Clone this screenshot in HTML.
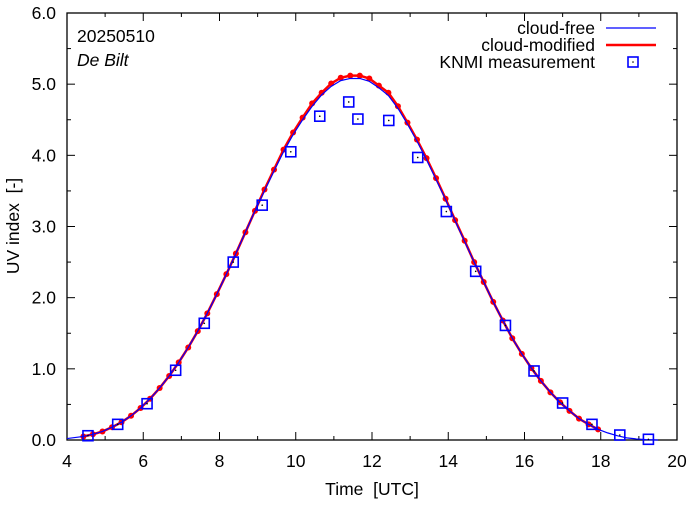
<!DOCTYPE html>
<html><head><meta charset="utf-8"><style>
body{margin:0;background:#fff}
svg text{font-family:"Liberation Sans",sans-serif;font-size:17.5px;fill:#000;white-space:pre}
</style></head><body>
<svg id="chart" width="694" height="501" xmlns="http://www.w3.org/2000/svg">
<g id="axes"></g>
<g id="series"></g>
<text x="77" y="42">20250510</text>
<text x="77" y="66" font-style="italic">De Bilt</text>
<g>
<text x="595" y="34" text-anchor="end">cloud-free</text>
<line x1="606" y1="28" x2="656" y2="28" stroke="#0000ff" stroke-width="1.2"/>
<text x="595" y="51" text-anchor="end">cloud-modified</text>
<line x1="606" y1="45" x2="656" y2="45" stroke="#ff0000" stroke-width="2.5"/>
<text x="595" y="68" text-anchor="end">KNMI measurement</text>
<rect x="628" y="57" width="10" height="10" fill="none" stroke="#0000ff" stroke-width="1.6"/>
<circle cx="633" cy="62" r="0.8" fill="#000"/>
</g>
<text x="372" y="495" text-anchor="middle">Time  [UTC]</text>
<text transform="translate(19,226) rotate(-90)" text-anchor="middle">UV index  [-]</text>
</svg>
<script>
const xTicks=[4,6,8,10,12,14,16,18,20];
const yTicks=[0,1,2,3,4,5,6];
const modTimes=[4.43,4.68,4.93,5.18,5.43,5.68,5.93,6.18,6.43,6.68,6.93,7.18,7.43,7.68,7.93,8.18,8.43,8.68,8.93,9.18,9.43,9.68,9.93,10.18,10.43,10.68,10.93,11.18,11.43,11.68,11.93,12.18,12.43,12.68,12.93,13.18,13.43,13.68,13.93,14.18,14.43,14.68,14.93,15.18,15.43,15.68,15.93,16.18,16.43,16.68,16.93,17.18,17.43,17.68,17.93];
const modValues=[0.05,0.08,0.12,0.18,0.25,0.34,0.45,0.58,0.73,0.90,1.09,1.30,1.53,1.78,2.05,2.33,2.62,2.92,3.22,3.52,3.80,4.08,4.32,4.53,4.73,4.88,5.01,5.09,5.12,5.12,5.08,4.98,4.88,4.69,4.46,4.22,3.96,3.68,3.39,3.09,2.80,2.50,2.22,1.94,1.68,1.43,1.21,1.01,0.83,0.67,0.53,0.41,0.30,0.22,0.15];
const freeTimes=[4.0,4.43,4.68,4.93,5.18,5.43,5.68,5.93,6.18,6.43,6.68,6.93,7.18,7.43,7.68,7.93,8.18,8.43,8.68,8.93,9.18,9.43,9.68,9.93,10.18,10.43,10.68,10.93,11.18,11.43,11.68,11.93,12.18,12.43,12.68,12.93,13.18,13.43,13.68,13.93,14.18,14.43,14.68,14.93,15.18,15.43,15.68,15.93,16.18,16.43,16.68,16.93,17.18,17.43,17.68,17.93,18.18,18.43,18.68,18.93,19.18,19.5];
const freeValues=[0.02,0.05,0.08,0.12,0.18,0.25,0.34,0.45,0.58,0.73,0.90,1.09,1.30,1.53,1.78,2.05,2.33,2.62,2.92,3.22,3.50,3.78,4.05,4.29,4.50,4.69,4.85,4.97,5.05,5.08,5.08,5.04,4.95,4.84,4.66,4.44,4.20,3.94,3.66,3.38,3.08,2.79,2.50,2.22,1.94,1.68,1.43,1.21,1.01,0.83,0.67,0.53,0.41,0.30,0.22,0.15,0.10,0.06,0.03,0.015,0.005,0];
const measTimes=[4.55,5.33,6.1,6.85,7.6,8.36,9.12,9.87,10.63,11.39,11.63,12.44,13.2,13.95,14.72,15.5,16.25,17.0,17.77,18.5,19.25];
const measValues=[0.06,0.22,0.51,0.98,1.64,2.5,3.3,4.05,4.55,4.75,4.51,4.49,3.97,3.21,2.37,1.61,0.97,0.52,0.22,0.07,0.01];
const X0=67,X1=677,Y0=440,Y1=13;
const sx=t=>X0+(t-4)/16*(X1-X0);
const sy=v=>Y0-v/6*(Y0-Y1);
const NS="http://www.w3.org/2000/svg";
function mk(tag,attrs,parent){const e=document.createElementNS(NS,tag);for(const k in attrs)e.setAttribute(k,attrs[k]);parent.appendChild(e);return e;}
const axes=document.getElementById('axes'),series=document.getElementById('series');
const frame=mk('rect',{x:X0,y:Y1,width:X1-X0,height:Y0-Y1,fill:'none',stroke:'#000','stroke-width':1.3},axes);


for(let t=4;t<=20;t++){const x=sx(t),len=(t%2===0)?8:4;
 mk('line',{x1:x,y1:Y0,x2:x,y2:Y0-len,stroke:'#000'},axes);
 mk('line',{x1:x,y1:Y1,x2:x,y2:Y1+len,stroke:'#000'},axes);}
for(let i=0;i<=12;i++){const v=i*0.5,y=sy(v),len=(i%2===0)?8:4;
 mk('line',{x1:X0,y1:y,x2:X0+len,y2:y,stroke:'#000'},axes);
 mk('line',{x1:X1,y1:y,x2:X1-len,y2:y,stroke:'#000'},axes);}
xTicks.forEach(t=>{const e=mk('text',{x:sx(t),y:Y0+27,'text-anchor':'middle'},axes);e.textContent=t;
 
 });
yTicks.forEach(v=>{const e=mk('text',{x:X0-11,y:sy(v)+6,'text-anchor':'end'},axes);e.textContent=v.toFixed(1);
 
 });
const red=mk('polyline',{points:modTimes.map((t,i)=>sx(t)+','+sy(modValues[i])).join(' '),fill:'none',stroke:'#ff0000','stroke-width':2.5},series);


modTimes.forEach((t,i)=>{const c=mk('circle',{cx:sx(t),cy:sy(modValues[i]),r:3,fill:'#ff0000'},series);
 
 });
const blue=mk('polyline',{points:freeTimes.map((t,i)=>sx(t)+','+sy(freeValues[i])).join(' '),fill:'none',stroke:'#0000ff','stroke-width':1.2},series);


measTimes.forEach((t,i)=>{const x=sx(t),y=sy(measValues[i]);
 const r=mk('rect',{x:x-5,y:y-5,width:10,height:10,fill:'none',stroke:'#0000ff','stroke-width':1.6},series);
 
 
 mk('circle',{cx:x,cy:y,r:0.8,fill:'#000'},series);});
</script>
</body></html>
